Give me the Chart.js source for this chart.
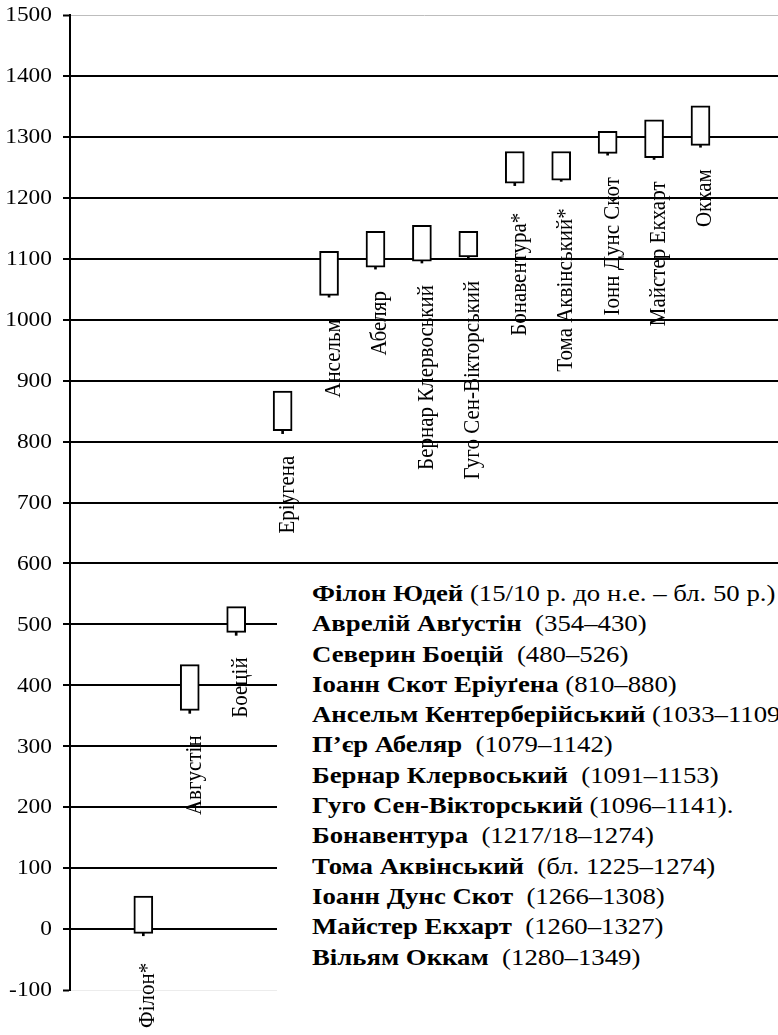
<!DOCTYPE html>
<html>
<head>
<meta charset="utf-8">
<script src="https://cdn.jsdelivr.net/npm/chart.js@4/dist/chart.umd.min.js"></script>
<style>
  html, body { margin: 0; padding: 0; background: #fff; overflow: hidden; }
  #wrap { position: relative; width: 778px; height: 1035px; }
  #chart { position: absolute; left: 0; top: 0; }
  #legendBox {
    position: absolute; left: 277px; top: 568px; width: 501px; height: 467px;
    background: #fff; overflow: hidden;
  }
  #legendText {
    position: absolute; left: 35px; top: 10px;
    font-family: "Liberation Serif", "Times New Roman", serif;
    font-size: 24px; line-height: 30.3px; color: #000;
    white-space: pre; transform: scaleX(1.115); transform-origin: left top;
  }
</style>
</head>
<body>
<div id="wrap">
  <canvas id="chart" width="778" height="1035"></canvas>
  <div id="legendBox"><div id="legendText"></div></div>
</div>
<script>
// Філософи: роки життя (коробка) та нижня позначка
const names = ['Філон*', 'Августін', 'Боецій', 'Еріугена', 'Ансельм', 'Абеляр',
    'Бернар Клервоський', 'Гуго Сен-Вікторський', 'Бонавентура*', 'Тома Аквінський*',
    'Іонн Дунс Скот', 'Майстер Екхарт', 'Оккам'];
const boxLow  = [-7, 359, 487, 818, 1040, 1086, 1096, 1103, 1224, 1229, 1273, 1266, 1286];
const boxHigh = [54, 434, 529, 883, 1112, 1145, 1155, 1145, 1276, 1276, 1309, 1328, 1351];
const lowYear = [-11, 354, 482, 813, 1037, 1083, 1093, 1100, 1220, 1227, 1270, 1263, 1283];

const yMin = -100, yMax = 1500, yStep = 100;

// Текстовий список праворуч унизу
const listNames = ['Філон Юдей', 'Аврелій Авґустін', 'Северин Боецій', 'Іоанн Скот Еріуґена',
    'Ансельм Кентерберійський', 'П’єр Абеляр', 'Бернар Клервоський', 'Гуго Сен-Вікторський',
    'Бонавентура', 'Тома Аквінський', 'Іоанн Дунс Скот', 'Майстер Екхарт', 'Вільям Оккам'];
const listDates = [' (15/10 р. до н.е. – бл. 50 р.)', '  (354–430)', '  (480–526)', ' (810–880)',
    ' (1033–1109)', '  (1079–1142)', '  (1091–1153)', ' (1096–1141).',
    '  (1217/18–1274)', '  (бл. 1225–1274)', '  (1266–1308)', '  (1260–1327)', '  (1280–1349)'];

const legendText = document.getElementById('legendText');
listNames.forEach((n, i) => {
    const div = document.createElement('div');
    const b = document.createElement('b');
    b.textContent = n;
    div.appendChild(b);
    div.appendChild(document.createTextNode(listDates[i]));
    legendText.appendChild(div);
});

const serif = '"Liberation Serif", "Times New Roman", serif';

// Підписи осі Y (трохи розтягнуті по горизонталі)
const tickLabelsPlugin = {
    id: 'tickLabels',
    afterDraw(chart) {
        const ctx = chart.ctx;
        const y = chart.scales.y;
        ctx.save();
        ctx.fillStyle = '#000';
        ctx.font = '20px ' + serif;
        ctx.textAlign = 'right';
        ctx.textBaseline = 'middle';
        y.ticks.forEach(t => {
            const py = y.getPixelForValue(t.value);
            ctx.save();
            ctx.translate(52, py + 1);
            ctx.scale(1.17, 1);
            ctx.fillText(String(t.value), 0, 0);
            ctx.restore();
        });
        ctx.restore();
    }
};

// Вертикальні імена під кожною коробкою
const nameLabelsPlugin = {
    id: 'nameLabels',
    afterDatasetsDraw(chart) {
        const ctx = chart.ctx;
        const xs = chart.scales.x, ys = chart.scales.y;
        ctx.save();
        ctx.fillStyle = '#000';
        ctx.font = '21px ' + serif;
        ctx.textAlign = 'right';
        ctx.textBaseline = 'alphabetic';
        names.forEach((n, i) => {
            const px = xs.getPixelForValue(i) + 11;
            const py = ys.getPixelForValue(lowYear[i]) + (n.endsWith('*') ? 27 : 22);
            ctx.save();
            ctx.translate(px, py);
            ctx.rotate(-Math.PI / 2);
            ctx.scale(1, 1.12);
            ctx.fillText(n, 0, 0);
            ctx.restore();
        });
        ctx.restore();
    }
};

new Chart(document.getElementById('chart'), {
    type: 'bar',
    data: {
        datasets: [
            {
                label: 'box',
                data: names.map((n, i) => ({ x: i, y: [boxLow[i], boxHigh[i]] })),
                backgroundColor: '#fff',
                borderColor: '#000',
                borderWidth: 2,
                borderSkipped: false,
                barThickness: 19,
                grouped: false
            },
            {
                label: 'low',
                data: names.map((n, i) => ({ x: i, y: [lowYear[i], boxLow[i]] })),
                backgroundColor: '#000',
                borderWidth: 0,
                barThickness: 2,
                grouped: false
            }
        ]
    },
    options: {
        responsive: false,
        animation: false,
        layout: { padding: { top: 13, bottom: 45, left: 0, right: 0 } },
        plugins: { legend: { display: false }, tooltip: { enabled: false } },
        scales: {
            x: {
                type: 'linear',
                display: false,
                min: -0.49,
                max: 12.58
            },
            y: {
                min: yMin,
                max: yMax,
                afterFit(scale) { scale.width = 70; },
                ticks: { stepSize: yStep, color: 'rgba(0,0,0,0)', font: { size: 20, family: serif } },
                border: { display: true, color: '#000', width: 2 },
                grid: {
                    color: c => c.tick && c.tick.value === yMax ? '#bdbdbd'
                        : (c.tick && c.tick.value === yMin ? '#ececec' : '#000'),
                    lineWidth: c => (c.tick && (c.tick.value === yMax || c.tick.value === yMin)) ? 1 : 2,
                    tickColor: '#000',
                    tickWidth: 2,
                    tickLength: 7
                }
            }
        }
    },
    plugins: [tickLabelsPlugin, nameLabelsPlugin]
});
</script>
</body>
</html>
